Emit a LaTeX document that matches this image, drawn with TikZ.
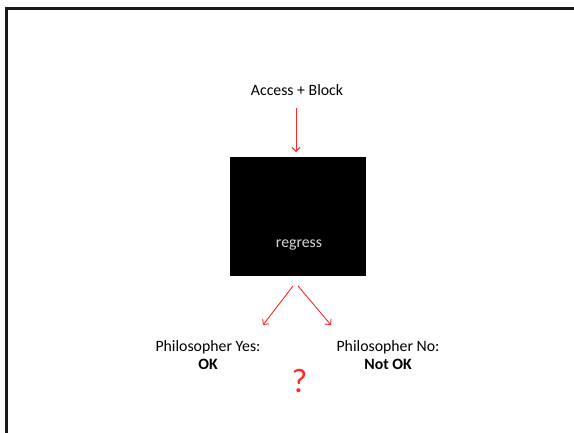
\documentclass[tikz,border=0pt]{standalone}
\usepackage{fontspec}
\setmainfont{Carlito}
\usetikzlibrary{arrows.meta}
\definecolor{arrowred}{RGB}{255,40,40}
\definecolor{boxtext}{RGB}{215,215,215}
\tikzset{
  lbl/.style={font=\fontsize{15.8}{18}\selectfont, align=center, inner sep=0pt},
  redarrow/.style={draw=arrowred, line width=0.9pt, -{Straight Barb[length=4pt,width=8pt]}},
}
\begin{document}
\begin{tikzpicture}[x=1pt,y=-1pt]
\useasboundingbox (0,0) rectangle (574,432);
\draw[line width=3pt, black!90] (6,8) rectangle (590,450);
\node[lbl] (top) at (297,90) {Access + Block};
\node[fill=black, minimum width=136pt, minimum height=119pt, inner sep=0pt] (box) at (298,216) {};
\node[lbl, text=boxtext] (reg) at (299,245) {regress};
\coordinate (a1) at (296,108);
\coordinate (a1e) at (296,152);
\draw[redarrow] (a1) -- (a1e);
\coordinate (l1) at (293,286);
\coordinate (l2) at (263,325);
\coordinate (r1) at (298,286);
\coordinate (r2) at (331,325);
\draw[redarrow] (l1) -- (l2);
\draw[redarrow] (r1) -- (r2);
\node[lbl] (yes) at (208,355) {Philosopher Yes:\\\textbf{OK}};
\node[lbl] (no) at (388,355) {Philosopher No:\\\textbf{Not OK}};
\node[lbl, text=arrowred, font=\fontsize{34}{38}\selectfont] (q) at (299.5,381) {?};
\end{tikzpicture}
\end{document}
